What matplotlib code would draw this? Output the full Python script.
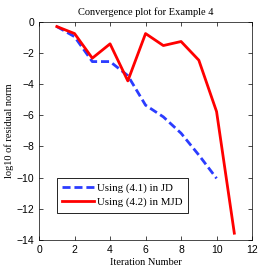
import numpy as np
import matplotlib.pyplot as plt

iters_jd = [1, 2, 3, 4, 5, 6, 7, 8, 9, 10]
res_jd = [-0.3, -0.95, -2.55, -2.55, -3.45, -5.35, -6.1, -7.15, -8.55, -10.05]

iters_mjd = [1, 2, 3, 4, 5, 6, 7, 8, 9, 10, 11]
res_mjd = [-0.3, -0.75, -2.33, -1.41, -3.79, -0.75, -1.52, -1.26, -2.46, -5.76, -13.57]

serif = ['Liberation Serif', 'DejaVu Serif']
sans = ['Liberation Sans', 'DejaVu Sans']

fig = plt.figure(figsize=(2.77, 2.77), dpi=100)
ax = fig.add_axes([0.141, 0.134, 0.769, 0.787])

ax.plot(iters_jd, res_jd, color='#2b3cff', linestyle='--', dashes=(2.9, 1.4), linewidth=2.0,
        label='Using (4.1) in JD')
ax.plot(iters_mjd, res_mjd, color='red', linewidth=2.0, label='Using (4.2) in MJD')

ax.set_xlim(0, 12)
ax.set_ylim(-14, 0)
ax.set_xticks(np.arange(0, 13, 2))
ax.set_yticks(np.arange(-14, 1, 2))
ax.tick_params(direction='in', top=True, right=True, length=3, width=0.5, labelsize=7.5)
for lab in ax.get_xticklabels() + ax.get_yticklabels():
    lab.set_family(sans)
for s in ax.spines.values():
    s.set_linewidth(0.5)

ax.set_title('Convergence plot for Example 4', family=serif, fontsize=7.5, pad=5)
ax.set_xlabel('Iteration Number', family=serif, fontsize=7.5, labelpad=2)
ax.set_ylabel('log10 of residual norm', family=serif, fontsize=7.5, labelpad=2)

leg = ax.legend(loc='lower left', bbox_to_anchor=(0.0845, 0.125), borderaxespad=0,
                prop={'family': serif, 'size': 7.8},
                fancybox=False, edgecolor='black', framealpha=1, handlelength=2.9,
                borderpad=0.5, labelspacing=0.4, handletextpad=0.3)
leg.get_frame().set_linewidth(0.6)

fig.savefig('out.png', dpi=100)
